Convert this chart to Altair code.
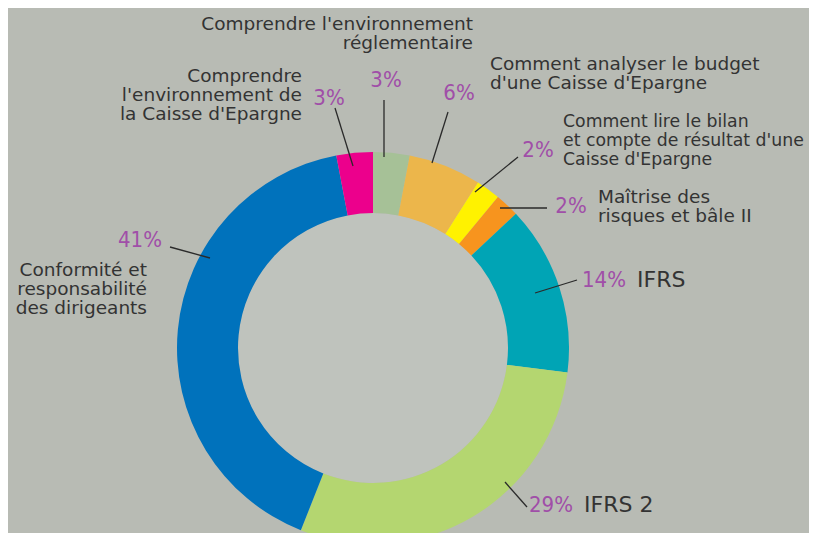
import altair as alt
import pandas as pd

# ---- data ----
categories = [
    "Comprendre l'environnement réglementaire",
    "Comment analyser le budget d'une Caisse d'Epargne",
    "Comment lire le bilan et compte de résultat d'une Caisse d'Epargne",
    "Maîtrise des risques et bâle II",
    "IFRS",
    "IFRS 2",
    "Conformité et responsabilité des dirigeants",
    "Comprendre l'environnement de la Caisse d'Epargne",
]
values = [3, 6, 2, 2, 14, 29, 41, 3]
label_lines = [
    ["Comprendre l'environnement", "réglementaire"],
    ["Comment analyser le budget", "d'une Caisse d'Epargne"],
    ["Comment lire le bilan", "et compte de résultat d'une", "Caisse d'Epargne"],
    ["Maîtrise des", "risques et bâle II"],
    ["IFRS"],
    ["IFRS 2"],
    ["Conformité et", "responsabilité", "des dirigeants"],
    ["Comprendre", "l'environnement de", "la Caisse d'Epargne"],
]

# ---- style / layout (annotation placement, page pixel coordinates) ----
colors = ["#a6c197", "#ecb64b", "#fff200", "#f7941e", "#00a4b5", "#b4d670", "#0072bc", "#ec008c"]
BG = "#b8bbb4"
INNER = "#bfc3bd"
PCT = "#a04ea8"
TXT = "#333333"
FONT_PCT = "DejaVu Sans Condensed, DejaVu Sans"
FONT_LAB = "DejaVu Sans"
W, H = 801, 525
CX, CY = 373, 348
R_OUT, R_IN = 196, 135
LH = 19

label_pos = [(473, 30, "right"), (490, 70, "left"), (563, 127, "left"), (598, 203, "left"),
             (637, 287, "left"), (584, 512, "left"), (147, 276, "right"), (302, 82, "right")]
label_size = [18.5, 18.5, 17.3, 18.5, 22, 22, 18.5, 18.5]
pct_pos = [(386, 87), (459, 100), (538, 157), (571, 213), (604, 287), (551, 512), (140, 247), (329, 105)]
leaders = [((384, 100), (384, 157)), ((448, 112), (432, 163)), ((518, 157), (475, 192)),
           ((500, 208), (547, 208)), ((577, 280), (535, 293)), ((527, 507), (505, 482)),
           ((170, 247), (210, 258)), ((335, 108), (353, 166))]

df = pd.DataFrame({"cat": categories, "value": values, "idx": list(range(len(values)))})
df["pct"] = [f"{v}%" for v in values]

rows = []
for lines, (x, y, al), sz in zip(label_lines, label_pos, label_size):
    for i, t in enumerate(lines):
        rows.append({"text": t, "x": x, "y": y + i * LH, "al": al, "size": sz})
lab = pd.DataFrame(rows)

pct = pd.DataFrame({"pct": df["pct"], "x": [p[0] for p in pct_pos], "y": [p[1] for p in pct_pos]})
lead = pd.DataFrame({
    "x": [l[0][0] for l in leaders], "y": [l[0][1] for l in leaders],
    "x2": [l[1][0] for l in leaders], "y2": [l[1][1] for l in leaders],
})

xs = alt.Scale(domain=[8, 8 + W], range=[0, W], nice=False, zero=False)
ys = alt.Scale(domain=[8, 8 + H], range=[0, H], nice=False, zero=False)

inner = alt.Chart(pd.DataFrame({"a": [0]})).mark_arc(
    radius=R_IN, theta=0, theta2=6.2832, fill=INNER
).encode(x=alt.value(CX - 8), y=alt.value(CY - 8))

ring = alt.Chart(df).mark_arc(radius=R_OUT, radius2=R_IN).encode(
    theta=alt.Theta("value:Q", stack=True),
    order=alt.Order("idx:Q"),
    color=alt.Color("cat:N", scale=alt.Scale(domain=categories, range=colors), legend=None),
    x=alt.value(CX - 8),
    y=alt.value(CY - 8),
)

rules = alt.Chart(lead).mark_rule(color="#2a2a2a", strokeWidth=1.3).encode(
    x=alt.X("x:Q", scale=xs, axis=None),
    y=alt.Y("y:Q", scale=ys, axis=None),
    x2="x2:Q",
    y2="y2:Q",
)

def text_layer(data, align):
    return alt.Chart(data).mark_text(
        align=align, baseline="alphabetic", font=FONT_LAB, color=TXT
    ).encode(
        x=alt.X("x:Q", scale=xs, axis=None),
        y=alt.Y("y:Q", scale=ys, axis=None),
        size=alt.Size("size:Q", scale=None, legend=None),
        text="text:N",
    )

lab_left = text_layer(lab[lab["al"] == "left"], "left")
lab_right = text_layer(lab[lab["al"] == "right"], "right")

pcts = alt.Chart(pct).mark_text(
    align="center", baseline="alphabetic", font=FONT_PCT, fontSize=22, color=PCT
).encode(
    x=alt.X("x:Q", scale=xs, axis=None),
    y=alt.Y("y:Q", scale=ys, axis=None),
    text="pct:N",
)

chart = alt.layer(inner, ring, rules, lab_left, lab_right, pcts).properties(
    width=W, height=H, background=BG, padding=0, autosize=alt.AutoSizeParams(type="none")
).configure_view(stroke=None)

chart.save("out.html", embed_options={"renderer": "svg", "actions": False})
